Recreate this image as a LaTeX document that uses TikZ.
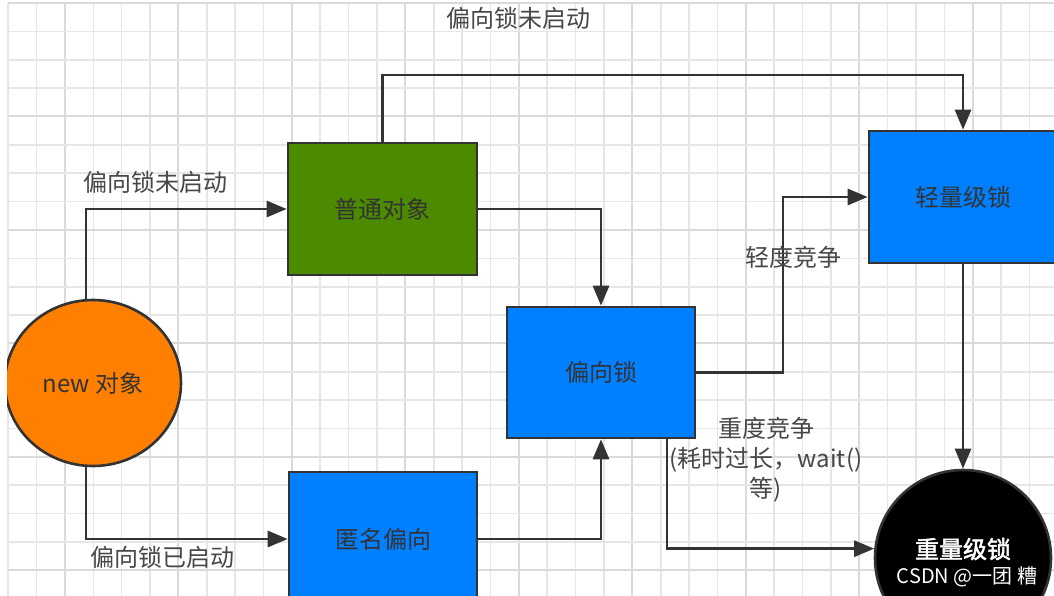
\documentclass[tikz,border=0pt]{standalone}
\usepackage{fontspec}
\setmainfont{Noto Sans CJK SC}
\newfontfamily\cjkbold[FakeBold=2]{Noto Sans CJK SC}
\usetikzlibrary{arrows.meta,positioning,calc,shapes.geometric}
\definecolor{gridminor}{HTML}{E6E6E6}
\definecolor{gridmajor}{HTML}{DADADA}
\definecolor{linec}{HTML}{333333}
\definecolor{labelc}{HTML}{474747}
\definecolor{boxgreen}{HTML}{4C8A00}
\definecolor{boxblue}{HTML}{0080FF}
\definecolor{boxorange}{HTML}{FF8000}
\tikzset{
  stbox/.style={draw=linec, line width=2.6pt, inner sep=0pt, text=linec,
    font=\fontsize{24}{28}\selectfont},
  lbl/.style={text=labelc, inner sep=0pt, font=\fontsize{24}{30}\selectfont},
  arr/.style={draw=linec, line width=2.8pt, -{Triangle[length=20pt,width=16pt]}},
  minorline/.style={draw=gridminor, line width=1.6pt},
  majorline/.style={draw=gridmajor, line width=2pt}
}
\begin{document}
\begin{tikzpicture}[x=1pt,y=-1pt]
\useasboundingbox (0,0) rectangle (1054,596);
\clip (0,0) rectangle (1054,596);
\fill[white] (0,0) rectangle (1054,596);
% grid
\foreach \i in {0,...,37} {
  \pgfmathtruncatemacro{\m}{mod(\i,4)}
  \ifnum\m=2
    \draw[majorline] ({8.2+28.37*\i},3) -- ({8.2+28.37*\i},596);
  \else
    \draw[minorline] ({8.2+28.37*\i},3) -- ({8.2+28.37*\i},596);
  \fi
}
\foreach \j in {0,...,21} {
  \pgfmathtruncatemacro{\m}{mod(\j,4)}
  \ifnum\m=0
    \draw[majorline] (8.2,{3+28.37*\j}) -- (1054,{3+28.37*\j});
  \else
    \draw[minorline] (8.2,{3+28.37*\j}) -- (1054,{3+28.37*\j});
  \fi
}
% nodes
\node[stbox, ellipse, fill=boxorange, minimum width=176pt, minimum height=166pt] (new) at (93,383) {new 对象};
\fill[white] (0,0) rectangle (7.2,596);
\node[stbox, fill=boxgreen, minimum width=189pt, minimum height=132pt] (green) at (382.5,209) {普通对象};
\node[stbox, fill=boxblue, minimum width=188pt, minimum height=131pt] (bias) at (601,372.5) {偏向锁};
\node[stbox, fill=boxblue, minimum width=188pt, minimum height=132pt] (light) at (963,197) {轻量级锁};
\node[stbox, fill=boxblue, minimum width=188pt, minimum height=134pt] (anon) at (383,539) {匿名偏向};
\node[stbox, circle, fill=black, minimum size=176pt] (heavy) at (963,558) {};
\node[text=white, inner sep=0pt, font=\fontsize{24}{28}\selectfont\cjkbold] (heavytxt) at (963,549) {重量级锁};
\node[text=white, inner sep=0pt, font=\fontsize{20}{24}\selectfont] (wm) at (967,577) {CSDN @一团 糟};
% connectors
\draw[arr] (new.north -| 86,0) |- (green.west);
\draw[arr] (new.south -| 86,0) |- (anon.west);
\draw[arr] (green.north) -- (382.5,75) -| (light.north);
\draw[arr] (green.east) -| (bias.north);
\draw[arr] (anon.east) -| (bias.south);
\draw[arr] (bias.east) -- (783,372.5) |- (light.west);
\draw[arr] (bias.south -| 667,0) |- (heavy.174);
\draw[arr] (light.south) -- (heavy.north);
% labels
\node[lbl] (l1) at (155,182) {偏向锁未启动};
\node[lbl] (l2) at (162,557) {偏向锁已启动};
\node[lbl] (l3) at (518,18) {偏向锁未启动};
\node[lbl] (l4) at (793,257) {轻度竞争};
\node[lbl, align=center] (l5) at (766,460) {重度竞争\\(耗时过长，wait()\\等)};
\end{tikzpicture}
\end{document}
